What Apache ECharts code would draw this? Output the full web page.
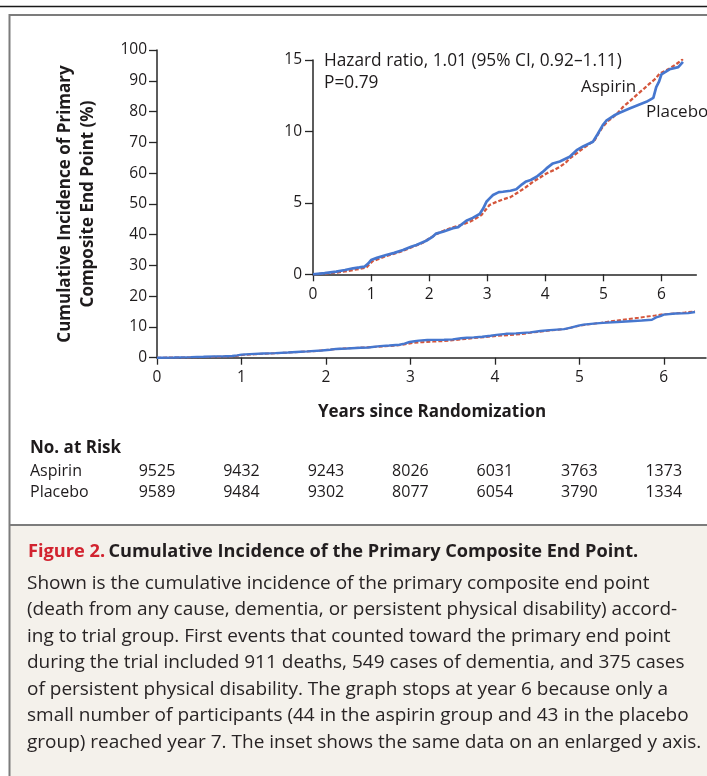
<!DOCTYPE html>
<html>
<head>
<meta charset="utf-8">
<script src="https://cdn.jsdelivr.net/npm/echarts@6/dist/echarts.min.js"></script>
<style>
html,body{margin:0;padding:0;background:#fff;}
#c{width:707px;height:776px;}
</style>
</head>
<body>
<div id="c"></div>
<script>
// ---- data ----
var placeboX = [0,0.2,0.4,0.55,0.69,0.8,0.89,0.95,1.0,1.1,1.26,1.4,1.55,1.7,1.78,1.95,2.05,2.12,2.25,2.41,2.5,2.64,2.75,2.87,2.93,2.99,3.05,3.1,3.2,3.27,3.4,3.5,3.6,3.67,3.75,3.85,3.95,4.02,4.13,4.25,4.42,4.54,4.65,4.82,4.9,4.99,5.05,5.11,5.2,5.28,5.45,5.6,5.74,5.86,5.91,5.96,6.0,6.14,6.29,6.37];
var placeboY = [0,0.08,0.19,0.3,0.42,0.48,0.54,0.75,1.0,1.15,1.35,1.5,1.7,1.95,2.05,2.35,2.6,2.85,3.0,3.22,3.3,3.75,3.95,4.22,4.6,5.1,5.35,5.55,5.75,5.78,5.85,5.95,6.3,6.5,6.6,6.83,7.15,7.41,7.76,7.9,8.23,8.69,8.95,9.28,9.8,10.44,10.75,10.91,11.15,11.31,11.6,11.85,12.07,12.35,13.1,13.5,14.0,14.35,14.5,14.87];
var aspirinX = [0,0.2,0.4,0.55,0.69,0.8,0.92,0.97,1.03,1.15,1.26,1.4,1.55,1.7,1.89,2.0,2.12,2.25,2.41,2.55,2.7,2.8,2.9,2.97,3.04,3.15,3.27,3.4,3.5,3.65,3.79,3.9,4.02,4.15,4.25,4.35,4.42,4.55,4.65,4.75,4.85,4.92,4.99,5.07,5.14,5.25,5.34,5.45,5.57,5.7,5.8,5.9,5.97,6.05,6.14,6.25,6.37];
var aspirinY = [0,0.05,0.12,0.2,0.3,0.38,0.47,0.7,0.93,1.1,1.28,1.45,1.65,1.9,2.21,2.5,2.8,3.05,3.29,3.45,3.68,3.9,4.15,4.5,4.85,5.05,5.24,5.4,5.66,6.05,6.48,6.75,7.06,7.3,7.53,7.8,8.11,8.5,8.81,9.1,9.39,9.9,10.33,10.7,10.91,11.3,11.72,12.1,12.54,13.0,13.36,13.7,14.06,14.2,14.4,14.7,15.06];
var xTicks = [0,1,2,3,4,5,6];
var mainYTicks = [0,10,20,30,40,50,60,70,80,90,100];
var insetYTicks = [0,5,10,15];
var riskYears = [0,1,2,3,4,5,6];
var riskAspirin = [9525,9432,9243,8026,6031,3763,1373];
var riskPlacebo = [9589,9484,9302,8077,6054,3790,1334];
var captionTitleRed = 'Figure 2.';
var captionTitle = 'Cumulative Incidence of the Primary Composite End Point.';
var captionLines = [
 'Shown is the cumulative incidence of the primary composite end point',
 '(death from any cause, dementia, or persistent physical disability) accord-',
 'ing to trial group. First events that counted toward the primary end point',
 'during the trial included 911 deaths, 549 cases of dementia, and 375 cases',
 'of persistent physical disability. The graph stops at year 6 because only a',
 'small number of participants (44 in the aspirin group and 43 in the placebo',
 'group) reached year 7. The inset shows the same data on an enlarged y axis.'
];

function pairs(xs, ys){ return xs.map(function(x,i){return [x, ys[i]];}); }

var FONT = '"Open Sans", "Liberation Sans", sans-serif';
var TXT = '#1e1b1c';
var AX = '#262626';
var BLUE = '#4677cf';
var RED = '#d4563c';

var chart = echarts.init(document.getElementById('c'), null, {renderer:'canvas'});

function xAxisCfg(gi, max, labelMargin){
  return {
    type:'value', gridIndex:gi, min:0, max:max, interval:1,
    axisLine:{show:true, onZero:false, lineStyle:{color:AX, width:1.5}},
    axisTick:{show:true, length:7, inside:false, lineStyle:{color:AX, width:1.3}, customValues:xTicks},
    axisLabel:{show:true, margin:labelMargin, color:TXT, fontFamily:FONT, fontSize:15.5, customValues:xTicks},
    splitLine:{show:false}
  };
}
function yAxisCfg(gi, max, interval, ticks, margin){
  return {
    type:'value', gridIndex:gi, min:0, max:max, interval:interval,
    axisLine:{show:true, onZero:false, lineStyle:{color:AX, width:1.5}},
    axisTick:{show:true, length:8, inside:false, lineStyle:{color:AX, width:1.3}, customValues:ticks},
    axisLabel:{show:true, margin:margin, color:TXT, fontFamily:FONT, fontSize:15.5, customValues:ticks},
    splitLine:{show:false}
  };
}

var option = {
  animation:false,
  backgroundColor:'#ffffff',
  grid:[
    {left:157, top:50, width:549, height:307.7, containLabel:false, outerBoundsMode:'none'},
    {left:313, top:60, width:383.3, height:214.3, containLabel:false, outerBoundsMode:'none'}
  ],
  xAxis:[ xAxisCfg(0, 6.5, 12), xAxisCfg(1, 6.6, 12) ],
  yAxis:[ yAxisCfg(0, 100, 10, mainYTicks, 10), yAxisCfg(1, 15, 5, insetYTicks, 11) ],
  series:[
    {name:'Aspirin', type:'line', xAxisIndex:0, yAxisIndex:0, data:pairs(aspirinX, aspirinY), showSymbol:false, symbol:'none',
      lineStyle:{color:RED, width:2, type:[4,2]}, z:2},
    {name:'Placebo', type:'line', xAxisIndex:0, yAxisIndex:0, data:pairs(placeboX, placeboY), showSymbol:false, symbol:'none',
      lineStyle:{color:BLUE, width:2.4}, z:3},
    {name:'Aspirin', type:'line', xAxisIndex:1, yAxisIndex:1, data:pairs(aspirinX, aspirinY), showSymbol:false, symbol:'none',
      lineStyle:{color:RED, width:2.3, type:[4,2]}, z:2},
    {name:'Placebo', type:'line', xAxisIndex:1, yAxisIndex:1, data:pairs(placeboX, placeboY), showSymbol:false, symbol:'none',
      lineStyle:{color:BLUE, width:2.7}, z:3}
  ]
};
chart.setOption(option);

// ---- decorations and texts ----
var g = [];
// top black rule
g.push({type:'line', shape:{x1:0,y1:6.5,x2:707,y2:6.5}, style:{stroke:'#1a1a1a', lineWidth:1.6}, z:10});
// caption background
g.push({type:'rect', shape:{x:10, y:525, width:700, height:260}, style:{fill:'#f4f1eb'}, z:-1});
// frame
g.push({type:'line', shape:{x1:9.5,y1:15,x2:707,y2:15}, style:{stroke:'#7c7c7c', lineWidth:2}, z:10});
g.push({type:'line', shape:{x1:9.5,y1:14,x2:9.5,y2:776}, style:{stroke:'#7c7c7c', lineWidth:2}, z:10});
g.push({type:'line', shape:{x1:9.5,y1:525,x2:707,y2:525}, style:{stroke:'#7c7c7c', lineWidth:2}, z:10});

// y axis title (rotated)
g.push({type:'text', x:76.5, y:204, rotation:Math.PI/2,
  style:{text:'Cumulative Incidence of Primary\nComposite End Point (%)', align:'center', verticalAlign:'middle',
    font:'bold 17px ' + FONT, fill:TXT, lineHeight:23}, z:10});
// x axis title
g.push({type:'text', x:432, y:412, style:{text:'Years since Randomization', align:'center', verticalAlign:'middle',
    font:'bold 17px ' + FONT, fill:TXT}, z:10});

// inset annotation
g.push({type:'text', x:324, y:61, style:{text:'Hazard ratio, 1.01 (95% CI, 0.92\u20131.11)', align:'left', verticalAlign:'middle',
    font:'17.3px ' + FONT, fill:TXT}, z:10});
g.push({type:'text', x:324, y:83, style:{text:'P=0.79', align:'left', verticalAlign:'middle',
    font:'17.3px ' + FONT, fill:TXT}, z:10});
g.push({type:'text', x:581, y:87, style:{text:'Aspirin', align:'left', verticalAlign:'middle',
    font:'17px ' + FONT, fill:TXT}, z:10});
g.push({type:'text', x:646, y:112, style:{text:'Placebo', align:'left', verticalAlign:'middle',
    font:'17px ' + FONT, fill:TXT}, z:10});

// risk table
g.push({type:'text', x:30, y:448, style:{text:'No. at Risk', align:'left', verticalAlign:'middle',
    font:'bold 17px ' + FONT, fill:TXT}, z:10});
g.push({type:'text', x:30, y:471, style:{text:'Aspirin', align:'left', verticalAlign:'middle',
    font:'16px ' + FONT, fill:TXT}, z:10});
g.push({type:'text', x:30, y:492, style:{text:'Placebo', align:'left', verticalAlign:'middle',
    font:'16px ' + FONT, fill:TXT}, z:10});
riskYears.forEach(function(yr, i){
  var px = chart.convertToPixel({xAxisIndex:0}, yr);
  g.push({type:'text', x:px, y:471, style:{text:String(riskAspirin[i]), align:'center', verticalAlign:'middle',
      font:'16px ' + FONT, fill:TXT}, z:10});
  g.push({type:'text', x:px, y:492, style:{text:String(riskPlacebo[i]), align:'center', verticalAlign:'middle',
      font:'16px ' + FONT, fill:TXT}, z:10});
});

// caption
g.push({type:'text', x:28, y:552, style:{
  text:'{r|' + captionTitleRed + '} {b|' + captionTitle + '}', align:'left', verticalAlign:'middle',
  rich:{
    r:{font:'bold 18.2px ' + FONT, fill:'#d2232f'},
    b:{font:'bold 18.2px ' + FONT, fill:'#221e1f'}
  }}, z:10});
captionLines.forEach(function(line, i){
  g.push({type:'text', x:27, y:583.5 + i*26.5, style:{text:line, align:'left', verticalAlign:'middle',
      font:'19px ' + FONT, fill:'#282425'}, z:10});
});

chart.setOption({graphic:{elements:g}});
</script>
</body>
</html>
